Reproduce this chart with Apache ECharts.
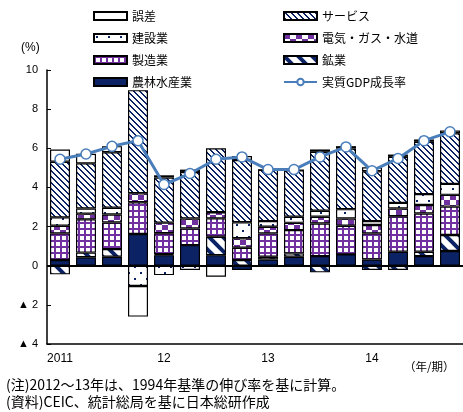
<!DOCTYPE html>
<html>
<head>
<meta charset="utf-8">
<script src="https://cdn.jsdelivr.net/npm/echarts@6/dist/echarts.min.js"></script>
<style>
  html, body { margin: 0; padding: 0; background: #fff; }
  #main { width: 463px; height: 412px; }
</style>
</head>
<body>
<div id="main"></div>
<script>
// quarters 2011Q1 - 2014Q4
var quarters = ['2011', '', '', '', '12', '', '', '', '13', '', '', '', '14', '', '', ''];

var agri     = [0.29, 0.43, 0.46, 1.62, 0.54, 1.05, 0.54, -0.22, 0.32, 0.46, 0.49, 0.58, 0.32, 0.71, 0.49, 0.75];
var mining   = [-0.44, 0.24, 0.39, 0, 0.05, 0, 0.94, 0.29, 0.14, 0.17, -0.34, 0, -0.22, -0.22, 0.22, 0.82];
var manuf    = [1.36, 1.70, 1.36, 1.62, 1.07, 0.85, 0.94, 0.63, 1.19, 1.19, 1.67, 1.46, 1.33, 1.82, 1.96, 1.45];
var util     = [0.39, 0.29, 0.41, 0.46, 0.54, 0.51, 0.31, 0.48, 0.34, 0.37, 0.34, 0.37, 0.43, 0.39, 0.43, 0.60];
var constr   = [0.43, 0.26, 0.34, -1.04, -0.48, -0.22, 0, 0.82, 0.29, 0.31, 0.31, 0.48, 0.20, 0.29, 0.56, 0.56];
var services = [2.84, 2.31, 2.84, 5.27, 2.30, 2.38, 3.27, 3.18, 2.62, 2.38, 3.01, 3.10, 2.55, 2.35, 2.67, 2.59];
var errs     = [0.63, 0.49, 0.31, -1.56, 0.12, 0.12, -0.56, 0.20, 0, 0, 0.12, 0.12, 0.20, 0.12, 0.12, 0.14];
var gdp      = [5.44, 5.71, 6.10, 6.39, 4.15, 4.71, 5.44, 5.56, 4.91, 4.91, 5.56, 6.07, 4.85, 5.48, 6.39, 6.84];

var navy = '#0b2365';
var purple = '#7030a0';

function pat(w, h, draw) {
  var c = document.createElement('canvas');
  c.width = w; c.height = h;
  var g = c.getContext('2d');
  g.fillStyle = '#fff';
  g.fillRect(0, 0, w, h);
  draw(g);
  return { image: c, repeat: 'repeat' };
}

var servicePat = pat(6, 6, function (g) {
  g.fillStyle = navy;
  for (var i = 0; i < 6; i++) {
    g.fillRect(i, i, 2, 1);
    if (i === 5) g.fillRect(0, 5, 1, 1);
  }
});
var constrPat = pat(12, 12, function (g) {
  g.fillStyle = navy;
  g.fillRect(2, 2, 2, 2);
  g.fillRect(8, 8, 2, 2);
});
var utilPat = pat(12, 10, function (g) {
  g.fillStyle = purple;
  g.fillRect(0, 0, 6, 5);
  g.fillRect(6, 5, 6, 5);
});
var manufPat = pat(6, 6, function (g) {
  g.fillStyle = purple;
  g.fillRect(0, 0, 2, 6);
  g.fillRect(0, 0, 6, 2);
});
var miningPat = pat(14, 14, function (g) {
  g.strokeStyle = navy;
  g.lineWidth = 4;
  [-14, 0, 14].forEach(function (x0) {
    g.beginPath();
    g.moveTo(x0 - 2, -2);
    g.lineTo(x0 + 16, 16);
    g.stroke();
  });
});

function bar(name, data, color) {
  return {
    name: name,
    type: 'bar',
    stack: 'total',
    data: data,
    barWidth: 20,
    itemStyle: { color: color, borderColor: '#000', borderWidth: 1.2 }
  };
}

var chartDom = document.getElementById('main');
var myChart = echarts.init(chartDom);
var option;

var series = [
  bar('農林水産業', agri, navy),
  bar('鉱業', mining, miningPat),
  bar('製造業', manuf, manufPat),
  bar('電気・ガス・水道', util, utilPat),
  bar('建設業', constr, constrPat),
  bar('サービス', services, servicePat),
  bar('誤差', errs, '#fff'),
  {
    name: '実質GDP成長率',
    type: 'line',
    data: gdp,
    z: 5,
    symbol: 'circle',
    symbolSize: 10,
    lineStyle: { color: '#4a7ebb', width: 3 },
    itemStyle: { color: '#fff', borderColor: '#4a7ebb', borderWidth: 1.5 }
  }
];
series[0].markLine = {
  silent: true,
  symbol: 'none',
  label: { show: false },
  lineStyle: { color: '#000', width: 2, type: 'solid' },
  data: [{ yAxis: 0 }]
};

var legendText = { fontSize: 12, color: '#000', fontFamily: 'Noto Sans CJK JP', lineHeight: 14 };

option = {
  animation: false,
  textStyle: { fontFamily: 'Noto Sans CJK JP' },
  legend: [
    {
      orient: 'vertical', left: 88, top: 4, itemWidth: 33, itemHeight: 8, itemGap: 8,
      textStyle: legendText,
      data: [
        { name: '誤差', icon: 'rect' },
        { name: '建設業', icon: 'rect' },
        { name: '製造業', icon: 'rect' },
        { name: '農林水産業', icon: 'rect' }
      ]
    },
    {
      orient: 'vertical', left: 278, top: 4, itemWidth: 33, itemHeight: 8, itemGap: 8,
      textStyle: legendText,
      data: [
        { name: 'サービス', icon: 'rect' },
        { name: '電気・ガス・水道', icon: 'rect' },
        { name: '鉱業', icon: 'rect' },
        { name: '実質GDP成長率' }
      ]
    }
  ],
  grid: { left: 47, top: 70, width: 418, height: 274 },
  xAxis: {
    type: 'category',
    data: quarters,
    axisLine: { onZero: false, lineStyle: { color: '#000', width: 1.5 } },
    axisTick: { inside: true, length: 5, interval: 3, lineStyle: { color: '#000' } },
    axisLabel: { interval: 3, color: '#000', fontSize: 12, fontFamily: 'Liberation Sans', margin: 9 }
  },
  yAxis: {
    type: 'value',
    min: -4,
    max: 10,
    interval: 2,
    axisLine: { show: true, lineStyle: { color: '#000', width: 1.5 } },
    axisTick: { show: true, inside: true, length: 4, lineStyle: { color: '#000' } },
    splitLine: { show: false },
    axisLabel: {
      color: '#000', fontSize: 11, fontFamily: 'Liberation Sans', margin: 9,
      formatter: function (v) { return v < 0 ? '▲ ' + (-v) : String(v); }
    }
  },
  graphic: [
    { type: 'text', left: 21, top: 42, style: { text: '(%)', fontSize: 12, fill: '#000', fontFamily: 'Liberation Sans' } },
    { type: 'text', left: 404, top: 361, style: { text: '（年/期）', fontSize: 11.5, fill: '#000', fontFamily: 'Noto Sans CJK JP' } },
    { type: 'text', left: 6, top: 378, style: { text: '(注)2012～13年は、1994年基準の伸び率を基に計算。', fontSize: 14, fill: '#000', fontFamily: 'Noto Sans CJK JP' } },
    { type: 'text', left: 6, top: 395, style: { text: '(資料)CEIC、統計総局を基に日本総研作成', fontSize: 14, fill: '#000', fontFamily: 'Noto Sans CJK JP' } }
  ],
  series: series
};

option && myChart.setOption(option);
</script>
</body>
</html>
